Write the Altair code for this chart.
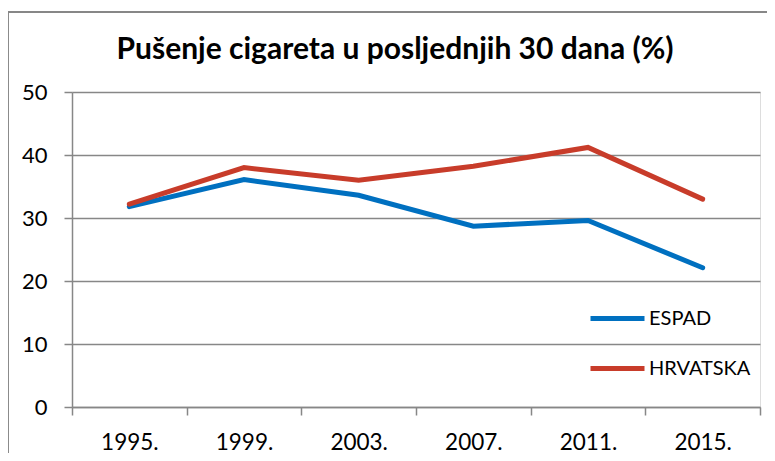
import altair as alt
import pandas as pd

years = ["1995.", "1999.", "2003.", "2007.", "2011.", "2015."]
espad = [31.8, 36.1, 33.6, 28.7, 29.6, 22.1]
hrvatska = [32.2, 38.0, 36.0, 38.2, 41.2, 33.0]
series_names = ["ESPAD", "HRVATSKA"]
series_colors = ["#0070C0", "#C83C2A"]

rows = []
for name, vals in zip(series_names, [espad, hrvatska]):
    for y, v in zip(years, vals):
        rows.append({"godina": y, "serija": name, "vrijednost": v})
df = pd.DataFrame(rows)

FONT = "Lato"
GRAY = "#878787"

lines = alt.Chart(df).mark_line(strokeWidth=5, strokeCap="round").encode(
    x=alt.X("godina:N", sort=years, title=None,
            scale=alt.Scale(paddingInner=0, paddingOuter=0),
            axis=alt.Axis(tickBand="extent", labelAngle=0, labelFontSize=22.5,
                          labelFont=FONT, labelColor="#000000", labelPadding=16,
                          tickSize=8, tickColor=GRAY, tickWidth=1.5,
                          domainColor=GRAY, domainWidth=1.5, grid=False)),
    y=alt.Y("vrijednost:Q", title=None,
            scale=alt.Scale(domain=[0, 50], nice=False, zero=True),
            axis=alt.Axis(values=[0, 10, 20, 30, 40, 50], labelFontSize=22,
                          labelFont=FONT, labelColor="#000000", labelPadding=17,
                          tickSize=8, tickColor=GRAY, tickWidth=1.5,
                          domainColor=GRAY, domainWidth=1.5,
                          grid=True, gridColor=GRAY, gridWidth=1.5)),
    color=alt.Color("serija:N", sort=series_names,
                    scale=alt.Scale(domain=series_names, range=series_colors),
                    legend=alt.Legend(title=None, orient="none", legendX=516, legendY=197,
                                      symbolType="stroke", symbolSize=2916,
                                      symbolStrokeWidth=5, labelFontSize=20,
                                      labelFont=FONT, labelColor="#000000",
                                      labelOffset=2, rowPadding=10, padding=0)),
)

border_top = alt.Chart(df).mark_rule(color=GRAY, strokeWidth=1.5).encode(
    x=alt.value(-64.5), x2=alt.value(720), y=alt.value(-80)
)
border_left = alt.Chart(df).mark_rule(color=GRAY, strokeWidth=1.5).encode(
    x=alt.value(-64.5), y=alt.value(-80), y2=alt.value(400)
)

chart = alt.layer(border_top, border_left, lines).properties(
    width=688, height=315,
    autosize=alt.AutoSizeParams(type="none"),
    padding={"left": 64, "top": 84, "right": 7, "bottom": 46},
    title=alt.TitleParams("Pušenje cigareta u posljednjih 30 dana (%)",
                          font=FONT, fontSize=30, fontWeight="bold",
                          color="#000000", anchor="middle", dx=-21, dy=96,
                          baseline="alphabetic", offset=18),
).configure_view(stroke=None).configure(background="white")

chart.save("out.html", embed_options={"renderer": "svg", "actions": False})
